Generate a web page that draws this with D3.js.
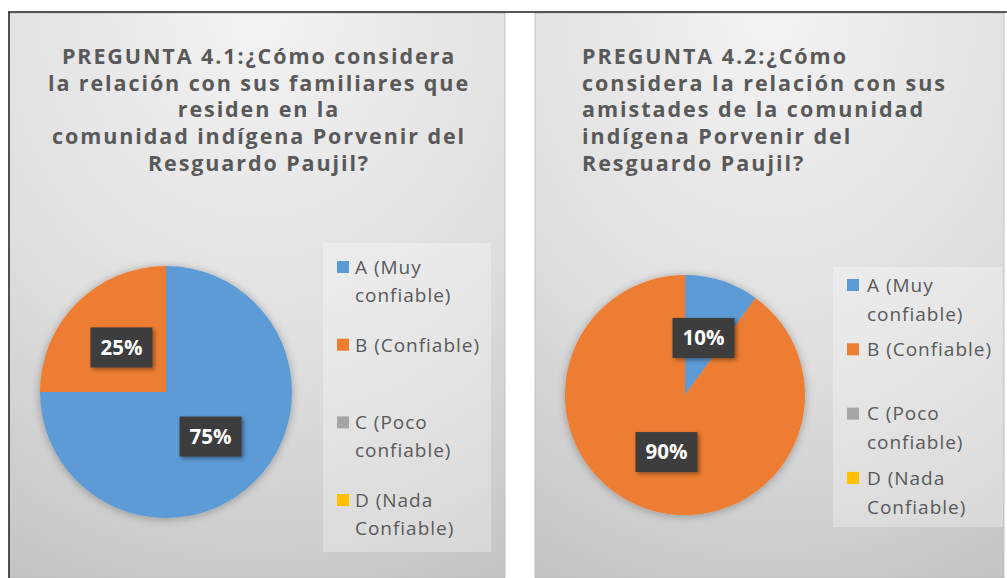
<!DOCTYPE html>
<html>
<head>
<meta charset="utf-8">
<script src="https://cdn.jsdelivr.net/npm/d3@7"></script>
<style>
body { margin: 0; background: #fff; }
svg { display: block; }
text { font-family: "Open Sans", Lato, sans-serif; }
</style>
</head>
<body>
<svg id="chart" width="1007" height="578"></svg>
<script>
// data
const categories = ["A (Muy confiable)", "B (Confiable)", "C (Poco confiable)", "D (Nada Confiable)"];
const colors = ["#5b9bd5", "#ed7d31", "#a5a5a5", "#ffc000"];
const values_4_1 = [75, 25, 0, 0];
const values_4_2 = [10, 90, 0, 0];
const title_4_1 = ["PREGUNTA 4.1:¿Cómo considera", "la relación con sus familiares que", "residen en la",
    "comunidad indígena Porvenir del", "Resguardo Paujil?"];
const title_4_2 = ["PREGUNTA 4.2:¿Cómo", "considera la relación con sus", "amistades de la comunidad",
    "indígena Porvenir del", "Resguardo Paujil?"];

// layout of the two panels
const panels = [
    { values: values_4_1, title: title_4_1, x0: 9, x1: 505, titleX: 259, anchor: "middle", titleW: 422,
      cx: 166, cy: 392, r: 126,
      legend: { x: 323, y: 243, w: 168, h: 309, sqX: 337, textX: 355, y0: 267, pitch: 77.7, lh: 28 } },
    { values: values_4_2, title: title_4_2, x0: 535, x1: 1004, titleX: 582, anchor: "start", titleW: 365,
      cx: 685, cy: 395, r: 120,
      legend: { x: 833, y: 267, w: 170, h: 260, sqX: 847, textX: 867, y0: 285, pitch: 64.3, lh: 29 } }
];

const svg = d3.select("#chart");
const defs = svg.append("defs");

const grad = defs.append("radialGradient").attr("id", "bg")
    .attr("cx", "50%").attr("cy", "0%").attr("r", "115%").attr("fx", "50%").attr("fy", "0%");
grad.append("stop").attr("offset", "0%").attr("stop-color", "#f3f3f3");
grad.append("stop").attr("offset", "55%").attr("stop-color", "#dedede");
grad.append("stop").attr("offset", "100%").attr("stop-color", "#c2c2c2");

defs.append("filter").attr("id", "pieShadow").attr("x", "-20%").attr("y", "-20%").attr("width", "140%").attr("height", "140%")
    .append("feDropShadow").attr("dx", 0).attr("dy", 1).attr("stdDeviation", 4)
    .attr("flood-color", "#000").attr("flood-opacity", 0.3);
defs.append("filter").attr("id", "boxShadow").attr("x", "-20%").attr("y", "-20%").attr("width", "150%").attr("height", "150%")
    .append("feDropShadow").attr("dx", 2).attr("dy", 2).attr("stdDeviation", 2)
    .attr("flood-color", "#000").attr("flood-opacity", 0.4);

function splitLabel(label) {
    const w = label.split(" ");
    return w.length > 2 ? [w.slice(0, 2).join(" "), w.slice(2).join(" ")] : [label];
}

// adjust letter spacing so the widest line of a text group matches target
function fitSpacing(sel, target) {
    let maxW = 0, n = 1;
    sel.each(function(d) {
        const w = this.getComputedTextLength();
        if (w > maxW) { maxW = w; n = d.length; }
    });
    sel.attr("letter-spacing", (target - maxW) / n);
}

panels.forEach(p => {
    const g = svg.append("g");

    // background
    g.append("rect")
        .attr("x", p.x0).attr("y", 13)
        .attr("width", p.x1 - p.x0).attr("height", 578 - 13)
        .attr("fill", "url(#bg)")
        .attr("stroke", "#b8b8b8").attr("stroke-width", 0.8);

    // title
    const title = g.append("g").selectAll("text")
        .data(p.title)
        .enter().append("text")
        .attr("x", p.titleX)
        .attr("y", (d, i) => 56 + i * 26.8)
        .attr("dy", "0.36em")
        .attr("text-anchor", p.anchor)
        .attr("font-weight", "bold")
        .attr("font-size", 21.5)
        .attr("fill", "#595959")
        .text(d => d);
    fitSpacing(title, p.titleW);

    // pie
    const pie = d3.pie().sort(null).value(d => d);
    const arc = d3.arc().innerRadius(0).outerRadius(p.r);
    const arcs = pie(p.values);

    g.append("g")
        .attr("transform", "translate(" + p.cx + "," + p.cy + ")")
        .attr("filter", "url(#pieShadow)")
        .selectAll("path")
        .data(arcs.filter(d => d.value > 0))
        .enter().append("path")
        .attr("d", arc)
        .attr("fill", d => colors[d.index]);

    // data labels
    const labels = g.append("g")
        .attr("transform", "translate(" + p.cx + "," + p.cy + ")")
        .selectAll("g")
        .data(arcs.filter(d => d.value > 0))
        .enter().append("g")
        .attr("transform", d => "translate(" + arc.centroid(d) + ")");
    labels.append("rect")
        .attr("x", -31).attr("y", -20)
        .attr("width", 62).attr("height", 40)
        .attr("fill", "#3d3d3d")
        .attr("filter", "url(#boxShadow)");
    labels.append("text")
        .attr("text-anchor", "middle")
        .attr("dy", "0.36em")
        .attr("font-weight", "bold")
        .attr("font-size", 20.5)
        .attr("fill", "#fff")
        .text(d => d.value + "%");

    // legend
    const L = p.legend;
    g.append("rect")
        .attr("x", L.x).attr("y", L.y)
        .attr("width", L.w).attr("height", L.h)
        .attr("fill", "#fff").attr("fill-opacity", 0.3);

    const items = g.append("g").selectAll("g")
        .data(categories)
        .enter().append("g")
        .attr("transform", (d, i) => "translate(0," + (L.y0 + i * L.pitch) + ")");
    items.append("rect")
        .attr("x", L.sqX).attr("y", -6)
        .attr("width", 12).attr("height", 12)
        .attr("fill", (d, i) => colors[i]);
    const ltxt = items.selectAll("text")
        .data(d => splitLabel(d))
        .enter().append("text")
        .attr("x", L.textX)
        .attr("y", (d, i) => i * L.lh)
        .attr("dy", "0.36em")
        .attr("font-size", 19)
        .attr("fill", "#595959")
        .text(d => d);
    fitSpacing(ltxt, 125);
});

// frame lines
svg.append("line").attr("x1", 8).attr("x2", 1007).attr("y1", 12).attr("y2", 12)
    .attr("stroke", "#222").attr("stroke-width", 1.5);
svg.append("line").attr("x1", 9).attr("x2", 9).attr("y1", 12).attr("y2", 578)
    .attr("stroke", "#222").attr("stroke-width", 1.5);
</script>
</body>
</html>
